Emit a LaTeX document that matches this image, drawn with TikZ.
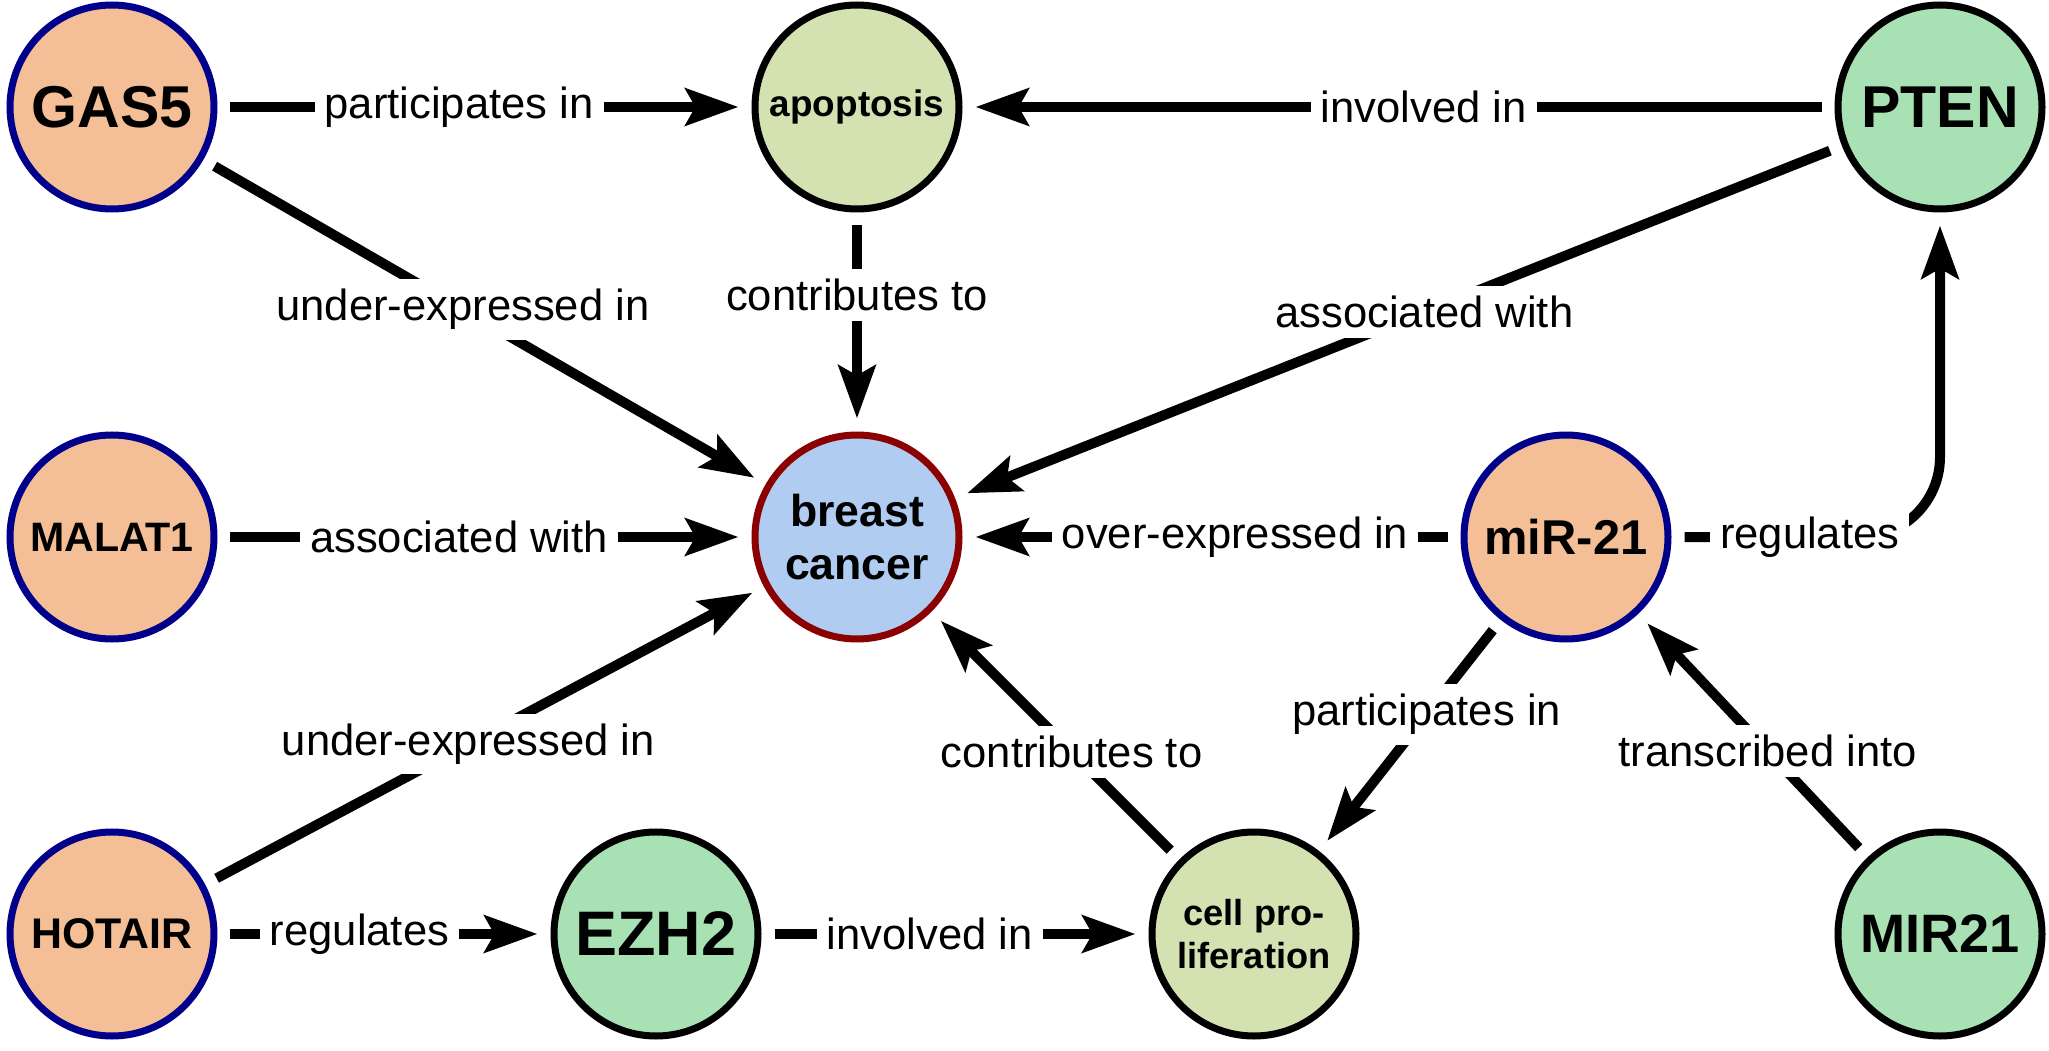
\documentclass[tikz,border=0pt]{standalone}
\usepackage{fontspec}
\setmainfont{Liberation Sans}
\usepackage{tikz}
\usetikzlibrary{positioning, arrows.meta}
\definecolor{lncfill}{RGB}{244,190,150}
\definecolor{lncborder}{RGB}{0,0,139}
\definecolor{genefill}{RGB}{168,226,180}
\definecolor{biofill}{RGB}{212,226,178}
\definecolor{disfill}{RGB}{176,204,240}
\definecolor{disborder}{RGB}{139,0,0}
\tikzset{>={Stealth[length=0.53cm, width=0.37cm, inset=0.1cm]}}
\tikzset{
  entity/.style={circle, minimum size=2.04cm, inner sep=0pt, line width=0.07cm,
    outer sep=0.165cm, align=center},
  lnc/.style={entity, draw=lncborder, fill=lncfill},
  gene/.style={entity, draw=black, fill=genefill},
  bio/.style={entity, draw=black, fill=biofill},
  disease/.style={entity, draw=disborder, fill=disfill},
  link/.style={->, line width=0.1cm},
  lbl/.style={sharp corners, fill=white, inner sep=0.1cm,
    font=\fontsize{12.4}{14}\selectfont},
}
\newcommand{\nfont}[2]{\fontsize{#1}{#2}\selectfont\bfseries}

\begin{document}
\begin{tikzpicture}[on grid]
  \useasboundingbox (-1.12,1.07) rectangle (19.37,-9.44);

  % START: Top row ---------------------------------
  \node[lnc, font=\nfont{16.8}{20}] (gas5) {GAS5};
  \node[bio, right=7.45cm of gas5, font=\nfont{10.5}{12}] (apoptosis) {apoptosis};
  \node[gene, right=10.83cm of apoptosis, font=\nfont{16.8}{20}] (pten) {PTEN};
  % END: Top row -----------------------------------

  % START: Middle row ------------------------------
  \node[lnc, below=4.3cm of gas5, font=\nfont{11.7}{14}] (malat1) {MALAT1};
  \node[disease, below=4.3cm of apoptosis, font=\nfont{12.7}{15.1}] (cancer) {breast\\cancer};
  \node[lnc, right=7.09cm of cancer, font=\nfont{13.9}{16}] (mir21) {miR-21};
  % END: Middle row --------------------------------

  % START: Bottom row ------------------------------
  \node[lnc, below=8.27cm of gas5, font=\nfont{12.2}{14}] (hotair) {HOTAIR};
  \node[gene, right=5.44cm of hotair, font=\nfont{17.9}{20}] (ezh2) {EZH2};
  \node[bio, right=5.98cm of ezh2, font=\nfont{10.3}{12.2}] (prolif) {cell pro-\\liferation};
  \node[gene, right=6.86cm of prolif, font=\nfont{15.4}{18}] (mir21gene) {MIR21};
  % END: Bottom row --------------------------------

  % Edges
  \draw[link] (gas5) -- node[lbl, pos=0.45] {participates in} (apoptosis);
  \draw[link] (gas5) -- node[lbl, pos=0.46] {under-expressed in} (cancer);
  \draw[link] (apoptosis) -- node[lbl, pos=0.36] {contributes to} (cancer);
  \draw[link] (pten) -- node[lbl, pos=0.47] {involved in} (apoptosis);
  \draw[link] (pten) -- node[lbl, pos=0.47] {associated with} (cancer);
  \draw[link] (malat1) -- node[lbl, pos=0.45] {associated with} (cancer);
  \draw[link] (hotair) -- node[lbl, pos=0.47] {under-expressed in} (cancer);
  \draw[link] (mir21) -- node[lbl, pos=0.45] {over-expressed in} (cancer);
  \draw[link, rounded corners=0.8cm] (mir21) -| node[lbl, pos=0.245] {regulates} (pten);
  \draw[link] (mir21) -- node[lbl, pos=0.4] {participates in} (prolif);
  \draw[link] (mir21gene) -- node[lbl, pos=0.43] {transcribed into} (mir21);
  \draw[link] (prolif) -- node[lbl, pos=0.43] {contributes to} (cancer);
  \draw[link] (hotair) -- node[lbl, pos=0.42] {regulates} (ezh2);
  \draw[link] (ezh2) -- node[lbl, pos=0.43] {involved in} (prolif);
\end{tikzpicture}
\end{document}
